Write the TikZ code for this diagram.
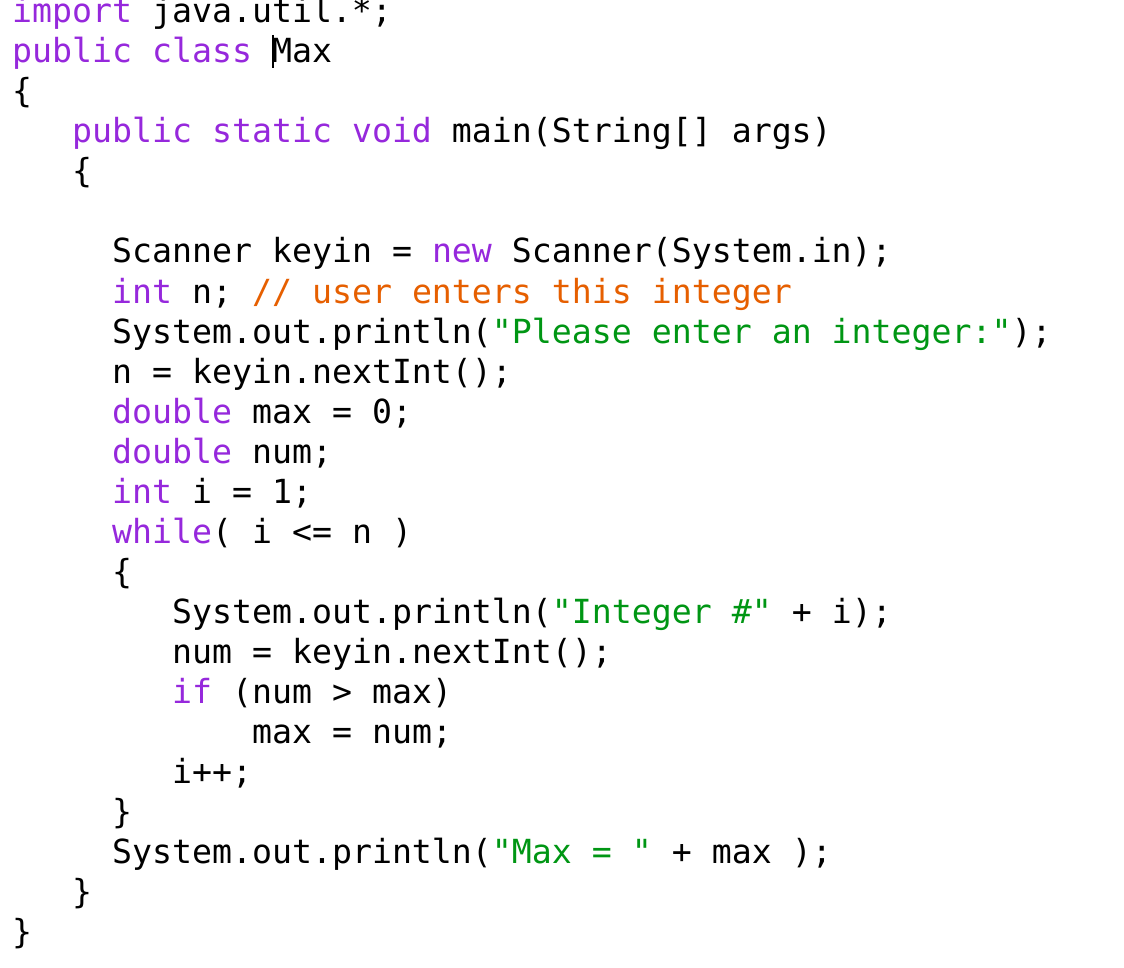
\documentclass[tikz,border=0pt]{standalone}
\usepackage{fontspec}
\newfontfamily\code{DejaVu Sans Mono}
\definecolor{kw}{RGB}{150,40,220}
\definecolor{str}{RGB}{0,150,20}
\definecolor{cm}{RGB}{230,95,0}
\newcommand{\K}[1]{\textcolor{kw}{#1}}
\newcommand{\Sg}[1]{\textcolor{str}{#1}}
\newcommand{\Cm}[1]{\textcolor{cm}{#1}}
\begin{document}
\begin{tikzpicture}[x=1pt,y=1pt,ln/.style={anchor=base west,inner sep=0pt,font=\code\fontsize{33.2}{40}\selectfont}]
\useasboundingbox[fill=white] (0,0) rectangle (1124,-968);
\def\L#1#2#3{\node[ln] (l#1) at ({12+20*#2},{-23-40*(#1-1)}) {#3};}
\L{1}{0}{\K{import} java.util.*;}
\L{2}{0}{\K{public} \K{class} Max}
\L{3}{0}{\{}
\L{4}{3}{\K{public} \K{static} \K{void} main(String[] args)}
\L{5}{3}{\{}
\L{7}{5}{Scanner keyin = \K{new} Scanner(System.in);}
\L{8}{5}{\K{int} n; \Cm{// user enters this integer}}
\L{9}{5}{System.out.println(\Sg{"Please enter an integer:"});}
\L{10}{5}{n = keyin.nextInt();}
\L{11}{5}{\K{double} max = 0;}
\L{12}{5}{\K{double} num;}
\L{13}{5}{\K{int} i = 1;}
\L{14}{5}{\K{while}( i <= n )}
\L{15}{5}{\{}
\L{16}{8}{System.out.println(\Sg{"Integer \#"} + i);}
\L{17}{8}{num = keyin.nextInt();}
\L{18}{8}{\K{if} (num > max)}
\L{19}{12}{max = num;}
\L{20}{8}{i++;}
\L{21}{5}{\}}
\L{22}{5}{System.out.println(\Sg{"Max = "} + max );}
\L{23}{3}{\}}
\L{24}{0}{\}}
\draw[line width=1.2pt] (273,-35) -- (273,-68);
\end{tikzpicture}
\end{document}
